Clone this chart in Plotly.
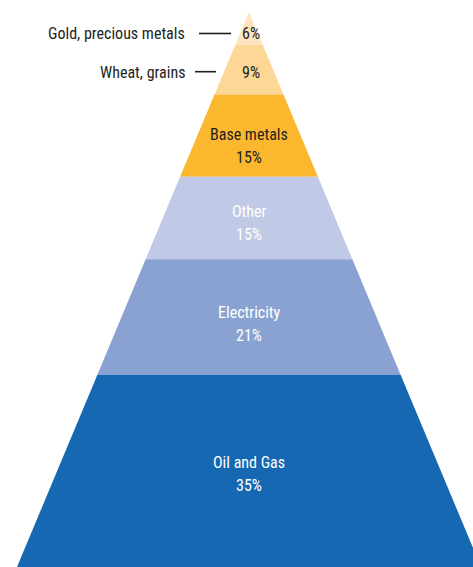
import plotly.graph_objects as go

# Share of the portfolio by commodity group, listed from the apex down
categories = ["Gold, precious metals", "Wheat, grains", "Base metals", "Other", "Electricity", "Oil and Gas"]
shares = [6, 9, 15, 15, 21, 35]
pct_labels = ["6%", "9%", "15%", "15%", "21%", "35%"]

colors = ["#FEE5BF", "#FDD795", "#FBB72E", "#C0C9E6", "#8AA2D1", "#1668B3"]
text_colors = ["#231F20", "#231F20", "#231F20", "#FFFFFF", "#FFFFFF", "#FFFFFF"]

W, H = 473, 567
APEX_X = 249          # x of the pyramid tip (pixel-like x units)
BASE_HALF = 232       # half-width of the base
TOP_PAD = 12          # pixels above the apex

# vertical nudges (pixels, negative = down) for each slice's text block
text_nudge = [-5, -3, -10, -5, -7, -3]

total = sum(shares)
y_top = total * (1 + TOP_PAD / (H - TOP_PAD))

def half_width(v):
    # width shrinks linearly from the base (v=0) to the apex (v=total)
    return BASE_HALF * (1 - v / total)

FONT = "Roboto Condensed, Liberation Sans Narrow, DejaVu Sans Condensed, sans-serif"
FS = 16

fig = go.Figure()
annotations = []

top = total
for name, val, pct, col, tcol, nud in zip(categories, shares, pct_labels, colors, text_colors, text_nudge):
    bot = top - val
    xs = [APEX_X - half_width(bot), APEX_X + half_width(bot),
          APEX_X + half_width(top), APEX_X - half_width(top), APEX_X - half_width(bot)]
    ys = [bot, bot, top, top, bot]
    fig.add_trace(go.Scatter(x=xs, y=ys, mode="lines", fill="toself",
                             fillcolor=col, line=dict(width=0), hoverinfo="skip",
                             showlegend=False))
    mid = (top + bot) / 2
    if val < 10:
        # small slices: percentage inside, name on the left with a leader line
        annotations.append(dict(x=APEX_X + 2, y=mid, text=pct, showarrow=False,
                                font=dict(family=FONT, size=FS, color=tcol), yshift=nud))
        annotations.append(dict(x=187, y=mid, text=name, showarrow=False, xanchor="right",
                                font=dict(family=FONT, size=FS, color="#231F20"), yshift=nud))
    else:
        annotations.append(dict(x=APEX_X, y=mid, text=name, showarrow=False,
                                font=dict(family=FONT, size=FS, color=tcol), yshift=nud + 11.5))
        annotations.append(dict(x=APEX_X, y=mid, text=pct, showarrow=False,
                                font=dict(family=FONT, size=FS, color=tcol), yshift=nud - 11.5))
    top = bot

# leader lines for the two small slices
cum_gold_mid = total - shares[0] / 2
cum_wheat_mid = total - shares[0] - shares[1] / 2
px = y_top / H
fig.add_trace(go.Scatter(x=[199, 231], y=[cum_gold_mid - 5 * px] * 2,
                         mode="lines", line=dict(color="#231F20", width=1.6),
                         hoverinfo="skip", showlegend=False))
fig.add_trace(go.Scatter(x=[195, 216], y=[cum_wheat_mid - 2 * px] * 2,
                         mode="lines", line=dict(color="#231F20", width=1.6),
                         hoverinfo="skip", showlegend=False))

fig.update_layout(
    width=W, height=H,
    margin=dict(l=0, r=0, t=0, b=0),
    paper_bgcolor="white", plot_bgcolor="white",
    xaxis=dict(range=[0, W], visible=False, fixedrange=True),
    yaxis=dict(range=[0, y_top], visible=False, fixedrange=True),
    annotations=annotations,
)

fig.write_html("out.html")
